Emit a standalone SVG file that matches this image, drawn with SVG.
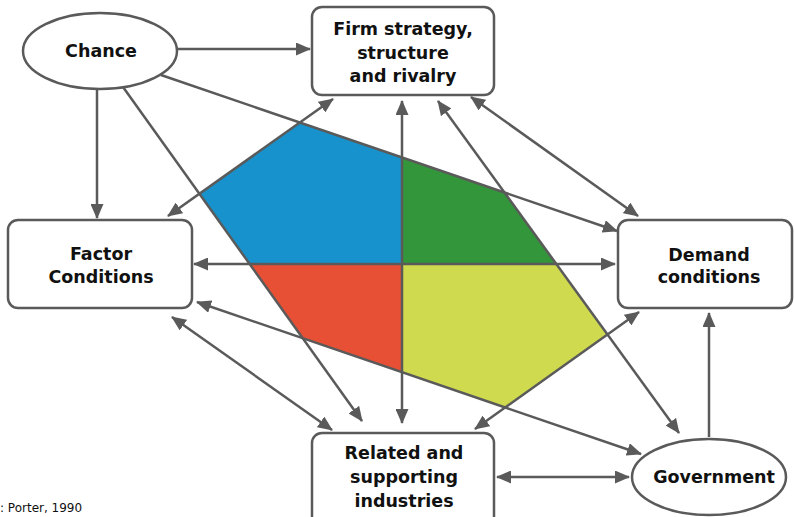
<svg xmlns="http://www.w3.org/2000/svg" width="794" height="517" viewBox="0 0 794 517">
<defs>
<marker id="ah" viewBox="0 0 15 13" refX="14" refY="6.5" markerWidth="15" markerHeight="13" markerUnits="userSpaceOnUse" orient="auto-start-reverse">
<path d="M0,0 L15,6.5 L0,13 Z" fill="#5a5a5a"/>
</marker>
</defs>
<style>
.node{fill:#fff;stroke:#5a5a5a;stroke-width:2.5}
.lbl{font-family:"DejaVu Sans",sans-serif;font-weight:bold;font-size:17.5px;fill:#111;text-anchor:middle}
.src{font-family:"DejaVu Sans",sans-serif;font-size:12px;fill:#111}
.ln{stroke:#5a5a5a;stroke-width:2.5;fill:none}
.one{marker-end:url(#ah)}
.two{marker-start:url(#ah);marker-end:url(#ah)}
</style>
<rect width="794" height="517" fill="#fff"/>
<g id="diamond">
<polygon points="402,264 250,264 199.5,193.7 299.7,122.6 402,157.6" fill="#1792cc"/>
<polygon points="402,157.6 504.7,192.9 556.3,264 402,264" fill="#34963b"/>
<polygon points="402,264 556.3,264 607.5,334.5 505.2,407.5 402,372.2" fill="#d0da4f"/>
<polygon points="402,264 402,372.2 303.5,338.5 250,264" fill="#e85035"/>
</g>
<g id="connectors">
<path class="ln one" d="M178,49 L310,49"/>
<path class="ln one" d="M97,89 L97,218"/>
<path class="ln one" d="M161,75 L617,231"/>
<path class="ln one" d="M123,87 L362,421"/>
<path class="ln two" d="M168,216 L333,99"/>
<path class="ln two" d="M194,264 L615,264"/>
<path class="ln two" d="M197,302 L641,454"/>
<path class="ln two" d="M172,317 L332,430"/>
<path class="ln two" d="M402,101 L402,423"/>
<path class="ln two" d="M438,101 L679,433"/>
<path class="ln two" d="M471,97 L638,216"/>
<path class="ln two" d="M475,429 L639,312"/>
<path class="ln two" d="M497,477 L629,477"/>
<path class="ln one" d="M709,437 L709,313"/>
</g>
<g id="chance">
<ellipse class="node" cx="100" cy="51" rx="77" ry="38"/>
<text class="lbl" x="101" y="57">Chance</text>
</g>
<g id="firm">
<rect class="node" x="312" y="7" width="182" height="88" rx="10"/>
<text class="lbl" x="403" y="35">Firm strategy,</text>
<text class="lbl" x="403" y="59">structure</text>
<text class="lbl" x="403" y="82">and rivalry</text>
</g>
<g id="factor">
<rect class="node" x="8" y="220" width="184" height="88" rx="10"/>
<text class="lbl" x="101" y="260">Factor</text>
<text class="lbl" x="101" y="283">Conditions</text>
</g>
<g id="demand">
<rect class="node" x="618" y="220" width="174" height="88" rx="10"/>
<text class="lbl" x="709" y="261">Demand</text>
<text class="lbl" x="709" y="283">conditions</text>
</g>
<g id="related">
<rect class="node" x="312" y="433" width="182" height="95" rx="10"/>
<text class="lbl" x="404" y="459">Related and</text>
<text class="lbl" x="404" y="483">supporting</text>
<text class="lbl" x="404" y="507">industries</text>
</g>
<g id="government">
<ellipse class="node" cx="709" cy="477" rx="77" ry="38"/>
<text class="lbl" x="714" y="483">Government</text>
</g>
<text class="src" x="0" y="512">: Porter, 1990</text>
</svg>
